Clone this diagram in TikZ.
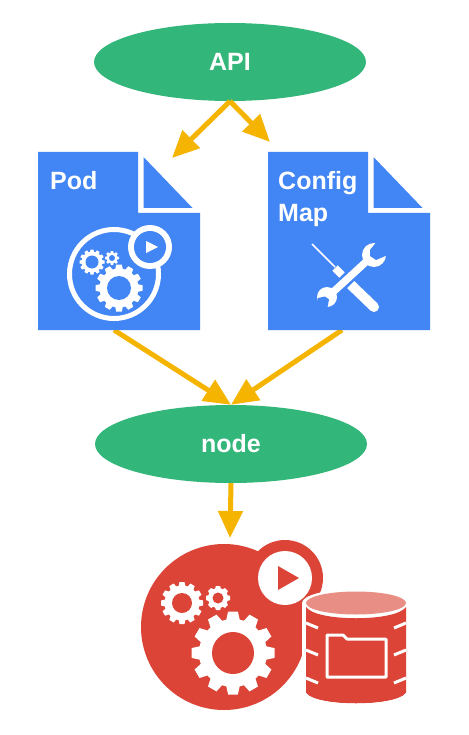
\documentclass[tikz,border=0pt]{standalone}
\usepackage{fontspec}
\setmainfont{Liberation Sans}
\usetikzlibrary{shapes.geometric,arrows.meta}
\definecolor{gapi}{HTML}{33B679}
\definecolor{bdoc}{HTML}{4285F4}
\definecolor{rpod}{HTML}{DB4437}
\definecolor{rtop}{HTML}{E98E85}
\definecolor{yarr}{HTML}{F4B400}
\tikzset{
  oval/.style={ellipse,fill=gapi,draw=none,minimum width=272pt,minimum height=78pt,inner sep=0pt,text=white,font=\bfseries\fontsize{25}{25}\selectfont},
  flow/.style={draw=yarr,line width=5pt,-{Triangle[length=27pt,width=24pt]},shorten >=0pt},
  doctext/.style={text=white,font=\bfseries\fontsize{25}{32}\selectfont,anchor=base west,inner sep=0pt,align=left},
  docbody/.style={fill=bdoc,draw=none},
  tick/.style={draw=white,line width=3pt}
}
% x, y, outer radius, root radius, hole radius, teeth, colour, hole colour
\newcommand{\cog}[8]{%
  \fill[#7] (#1,#2) circle[radius=#4];
  \pgfmathsetmacro{\tw}{#4*3.1416/#6*0.76}%
  \pgfmathsetmacro{\tt}{\tw*0.72}%
  \foreach \ang in {1,...,#6}{%
    \fill[#7,shift={(#1,#2)},rotate=\ang*360/#6]
      (#4-1,-\tw) -- (#3,-\tt) -- (#3,\tt) -- (#4-1,\tw) -- cycle;
  }
  \fill[#8] (#1,#2) circle[radius=#5];
}
\newcommand{\docshape}[1]{%
  \fill[docbody,shift={(#1,0)}] (38,152) -- (138,152) -- (138,213) -- (200,213) -- (200,330) -- (38,330) -- cycle;
  \fill[docbody,shift={(#1,0)}] (143.500,157) -- (143.500,208) -- (192.500,208) -- cycle;
}
\begin{document}
\begin{tikzpicture}[x=1pt,y=-1pt]
\useasboundingbox (0,0) rectangle (468,735);
\fill[white] (0,0) rectangle (468,735);

% connector end points
\coordinate (podout) at (114,330);
\coordinate (cfgout) at (342,330);
\coordinate (podin) at (172,158);
\coordinate (cfgin) at (270,142);
\coordinate (podicon) at (230,538);

\node[oval] (api) at (230,62) {API};
\node[oval] (nodebox) at (231,444) {node};

\draw[flow] (api.south) -- (podin);
\draw[flow] (api.south) -- (cfgin);
\draw[flow] (podout) -- (nodebox.north);
\draw[flow] (cfgout) -- (nodebox.north);
\draw[flow] (nodebox.south) -- (podicon);

% documents
\docshape{0}
\docshape{230}
\node[doctext] (podlabel) at (50,190) {Pod};
\node[doctext] (cfglabel) at (278,222) {Config\\Map};

% pod icon on document
\draw[white,line width=5pt] (114,274) circle[radius=44.500];
\fill[white] (150,247) circle[radius=22];
\fill[bdoc] (150,247) circle[radius=16];
\fill[white] (146,241) -- (146,253) -- (158,247) -- cycle;
\cog{119}{288}{23.500}{19.500}{12}{12}{white}{bdoc}
\cog{92}{262}{12.500}{10.500}{6.500}{12}{white}{bdoc}
\cog{112}{258}{7}{5.500}{3}{8}{white}{bdoc}

% screwdriver
\draw[white,line width=1.500pt] (312,244) -- (335,267);
\draw[white,line width=7.500pt] (335,268) -- (342,275);
\draw[white,line width=10pt,line cap=round] (347,281) -- (374,307);
% wrench
\draw[bdoc,line width=10pt] (364,264) -- (336,292);
\draw[white,line width=7.300pt] (368,260) -- (332,293);
\fill[white] (374,255) circle[radius=12];
\fill[white] (327,297) circle[radius=10];
\fill[bdoc] (378,240) -- (370,250) -- (370,256) -- (376,260) -- (390,254) -- (392,240) -- cycle;
\fill[bdoc] (318,298) -- (325,296.500) -- (329,299.500) -- (327,310) -- (315,310) -- cycle;

% red pod
\fill[rpod] (224,627) circle[radius=83];
\fill[rpod] (285,578) circle[radius=38];
\fill[white] (285,578) circle[radius=27];
\fill[rpod] (278,566) -- (278,590) -- (299,578) -- cycle;
\cog{233}{653}{41.500}{34}{21}{12}{white}{rpod}
\cog{182}{603}{21}{17.500}{10}{12}{white}{rpod}
\cog{218}{598}{12}{10}{5.500}{8}{white}{rpod}

% cylinder
\fill[white] (356,603) ellipse[x radius=54,y radius=14];
\fill[white] (302,603) rectangle (410,700);
\fill[rpod] (306,607) .. controls (316,622) and (396,622) .. (406,607)
  -- (406,693) .. controls (396,707) and (316,707) .. (306,693) -- cycle;
\fill[white] (302,696) -- (306,693) .. controls (316,707) and (396,707) .. (406,693) -- (410,696) -- (410,712) -- (302,712) -- cycle;
\fill[rtop] (356,603) ellipse[x radius=50,y radius=11.500];
\foreach \yy in {623,650,678}{
  \draw[tick] (306,\yy) -- (318,\yy+5);
  \draw[tick] (406,\yy) -- (394,\yy+5);
}
\draw[white,line width=3pt,line join=round] (327,635) -- (343,635) -- (347,639) -- (386,639) -- (386,677) -- (327,677) -- cycle;
\end{tikzpicture}
\end{document}
